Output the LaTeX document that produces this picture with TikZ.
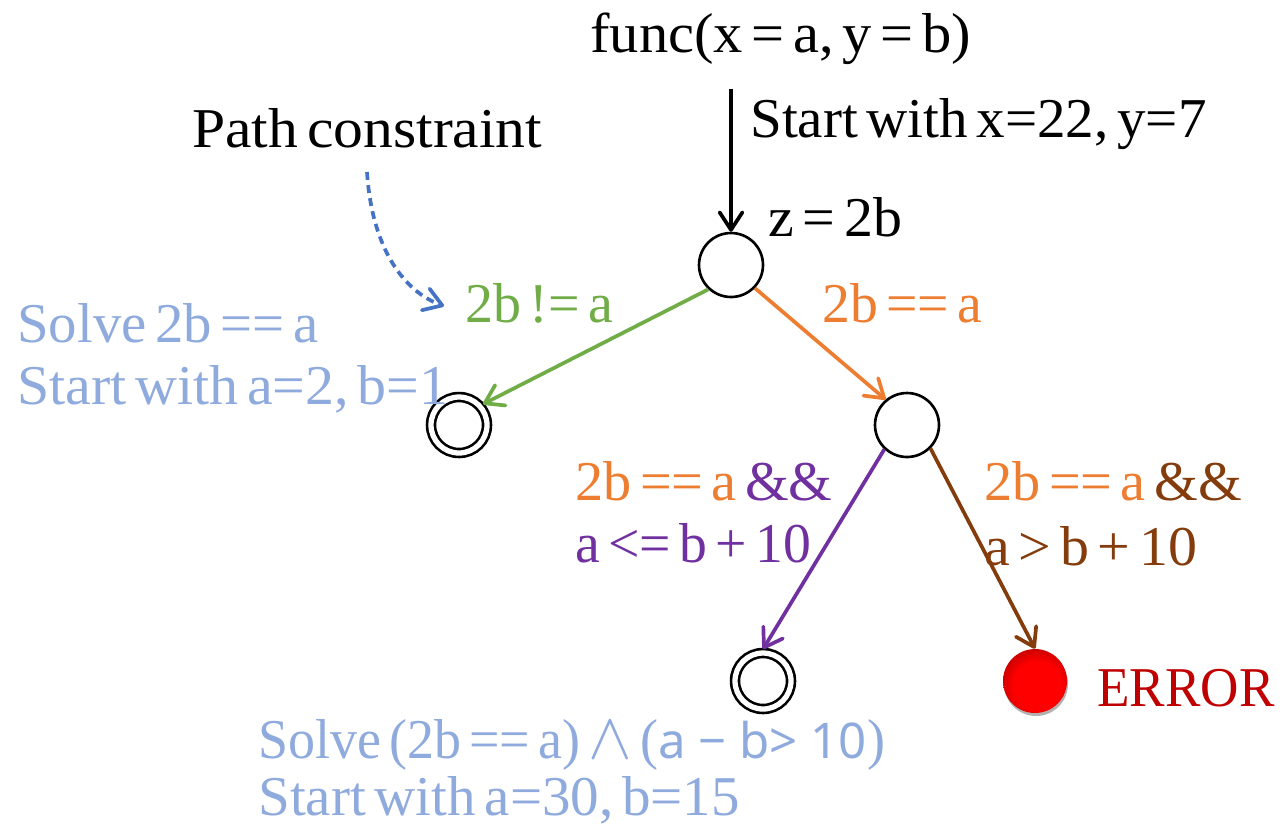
\documentclass[tikz,border=0pt]{standalone}
\usepackage{fontspec}
\setmainfont[WordSpace=0.6]{Liberation Serif}
\setsansfont{Noto Sans}
\usetikzlibrary{arrows.meta}
\usetikzlibrary{shadows}
\definecolor{pathblue}{HTML}{4472C4}
\definecolor{solveblue}{HTML}{8FAADC}
\definecolor{truegreen}{HTML}{70AD47}
\definecolor{eqorange}{HTML}{ED7D31}
\definecolor{lepurple}{HTML}{7030A0}
\definecolor{gtbrown}{HTML}{843C0C}
\definecolor{errred}{HTML}{C00000}
\pgfdeclareradialshading{errball}{\pgfpoint{3bp}{-6bp}}{color(0bp)=(red); color(19bp)=(red); color(28bp)=(red!80!black); color(30bp)=(red!88!white); color(36bp)=(red!72!white); color(50bp)=(red!72!white)}
\newcommand{\stateptsize}{1.28cm}
\tikzset{lbl/.style={anchor=base west, inner sep=0pt, font=\fontsize{32}{38}\selectfont\addfontfeatures{FakeStretch=#1}}, lbl/.default=1.02}
\tikzset{statept/.style={circle, draw, line width=1.5pt, inner sep=0pt, minimum size=\stateptsize}}
\tikzset{finalpt/.style={circle, draw, line width=1.5pt, double, double distance=3pt, inner sep=0pt, outer sep=2.2pt, minimum size=1.12cm}}
\tikzset{errpt/.style={circle, shade, shading=errball, inner sep=0pt, minimum size=\stateptsize, drop shadow={shadow xshift=0.02cm, shadow yshift=-0.06cm, fill=black!60, opacity=0.5}}}
\tikzset{edge/.style={-{Straight Barb[length=10pt, width=13pt, line width=2.1pt, round]}, line width=2.1pt}}
\begin{document}
\begin{tikzpicture}[x=0.02cm, y=0.02cm]
\useasboundingbox (0,0) rectangle (1283,-826);

\node[statept] (root) at (731,-265) {};
\node[finalpt] (left) at (459,-425) {};
\node[statept] (mid) at (907,-425) {};
\node[finalpt] (low) at (763,-681) {};
\node[errpt] (err) at (1035,-681) {};

\coordinate (entry) at (731,-89);
\coordinate (pcfrom) at (367,-172);
\coordinate (pcto) at (444,-306);

\node[lbl=1.04] (func) at (590,-52) {func(x = a, y = b)};
\node[lbl=1.015] (start) at (750,-137) {Start with x=22, y=7};
\node[lbl=1.06] (pc) at (192,-147) {Path constraint};
\node[lbl=1.03] (zval) at (768,-236) {z = 2b};
\node[lbl=0.995, text=truegreen] (ne) at (465,-322) {2b != a};
\node[lbl=0.99, text=eqorange] (eq) at (822,-322) {2b == a};
\node[lbl=1.01, text=solveblue] (solvea) at (17,-342) {Solve 2b == a};
\node[lbl=1.03, text=solveblue] (starta) at (17,-404) {Start with a=2, b=1};
\node[lbl=1.0, text=eqorange] (lea) at (575,-500) {2b == a \textcolor{lepurple}{\&\&}};
\node[lbl=0.99, text=lepurple] (leb) at (575,-562) {a <= b + 10};
\node[lbl=1.0, text=eqorange] (gta) at (984,-500) {2b == a \textcolor{gtbrown}{\&\&}};
\node[lbl=1.03, text=gtbrown] (gtb) at (984,-565) {a > b + 10};
\node[lbl=0.945, text=errred] (errtxt) at (1097,-706) {ERROR};
\node[lbl=0.96, text=solveblue] (solveb) at (258,-758) {Solve (2b == a) \scalebox{1.5}{$\wedge$} ({\sffamily\fontsize{28}{36}\selectfont a − b> 10})};
\node[lbl=1.015, text=solveblue] (startb) at (258,-815) {Start with a=30, b=15};

\draw[edge] (entry) -- (root.north);
\draw[edge, truegreen] (root.227) -- (left.41);
\draw[edge, eqorange] (root.-44) -- (mid.130);
\draw[edge, lepurple] (mid.227) -- (low.north);
\draw[edge, gtbrown] (mid.-45) -- (err.north);
\draw[edge, pathblue, dash pattern=on 4.5pt off 3pt] (pcfrom) .. controls (372,-250) and (405,-292) .. (pcto);

\end{tikzpicture}
\end{document}
